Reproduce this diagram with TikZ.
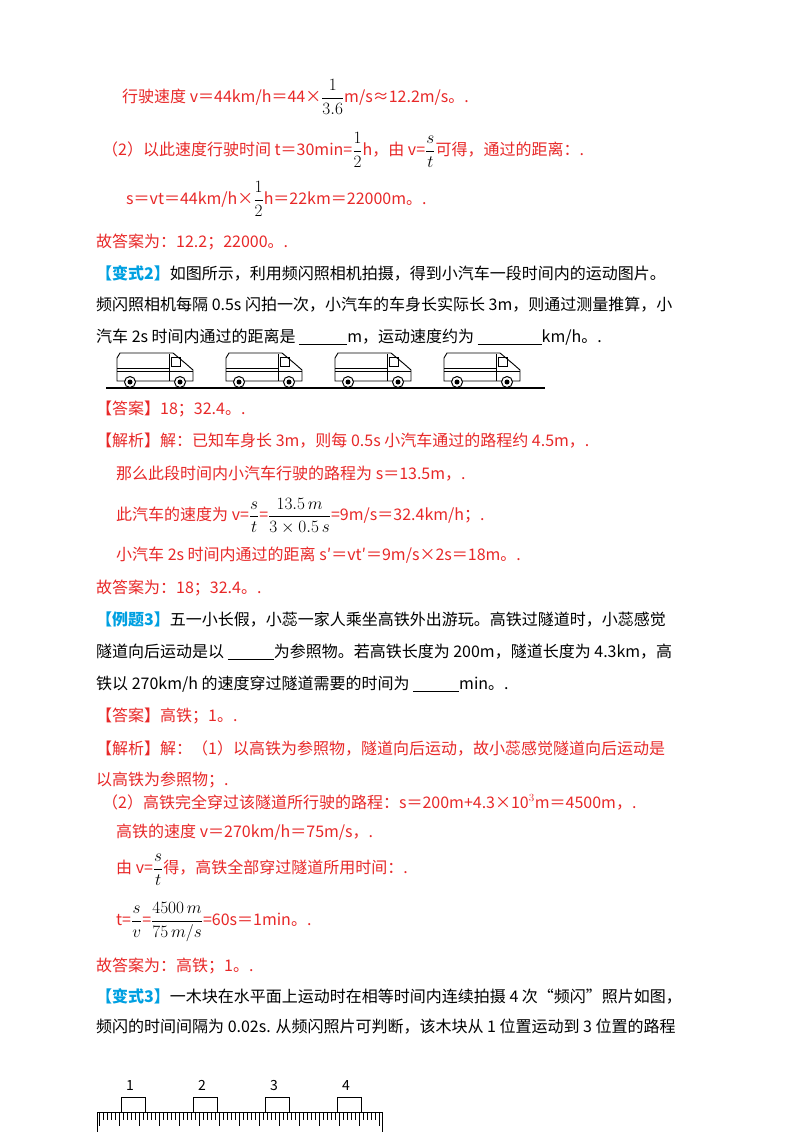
\documentclass[tikz,border=0pt]{standalone}
\usepackage{amsmath}
\usepackage{fontspec}
\setmainfont{Noto Sans CJK SC}
\definecolor{rd}{RGB}{232,40,40}
\definecolor{cy}{RGB}{0,160,225}
\newcommand{\bl}[1]{\underline{\hspace{#1}}}
\newcommand{\kf}[2]{\textcolor{black}{$\dfrac{#1}{#2}$}}
\begin{document}
\begin{tikzpicture}[x=1pt,y=-1pt,
 t/.style={anchor=west,inner sep=0pt,font=\fontsize{16}{19}\selectfont},
 r/.style={t,text=rd},
 van/.style={draw,line width=0.9pt,fill=white}]
\useasboundingbox[fill=white] (0,0) rectangle (800,1132);
\node[r] (l1) at (122,97) {行驶速度 v＝44km/h＝44×\kf{1}{3.6}m/s≈12.2m/s。.};
\node[r] (l2) at (102,150) {（2）以此速度行驶时间 t＝30min=\kf{1}{2}h，由 v=\kf{s}{t}可得，通过的距离：.};
\node[r] (l3) at (126,199) {s＝vt＝44km/h×\kf{1}{2}h＝22km＝22000m。.};
\node[r] (l4) at (96,242) {故答案为：12.2；22000。.};
\node[t] (l5) at (96,273) {\textcolor{cy}{\textbf{【变式2】}}如图所示，利用频闪照相机拍摄，得到小汽车一段时间内的运动图片。};
\node[t] (l6) at (96,305) {频闪照相机每隔 0.5s 闪拍一次，小汽车的车身长实际长 3m，则通过测量推算，小};
\node[t] (l7) at (96,337) {汽车 2s 时间内通过的距离是 \bl{48pt}m，运动速度约为 \bl{64pt}km/h。.};
% vans
\foreach \x [count=\i] in {117,226,335,444}{
 \draw[van] (\x,358) -- (\x,381) -- (\x+76,381) -- (\x+76,370) -- (\x+68,363) -- (\x+56,353) -- (\x+3,353) -- cycle;
 \draw[line width=0.6pt] (\x,371) -- (\x+76,371) (\x,368) -- (\x+52,368) (\x+52,354) -- (\x+52,381) (\x+54,357) rectangle (\x+63,366);
 \draw[line width=1pt,fill=white] (\x+13,382) circle (5.5) (\x+63,382) circle (5.5);
 \fill (\x+13,382) circle (2.5) (\x+63,382) circle (2.5);
}
\draw[line width=1.5pt] (106,388) -- (545,388);
\node[r] (a1) at (96,409) {【答案】18；32.4。.};
\node[r] (a2) at (96,441) {【解析】解：已知车身长 3m，则每 0.5s 小汽车通过的路程约 4.5m，.};
\node[r] (a3) at (116,474) {那么此段时间内小汽车行驶的路程为 s＝13.5m，.};
\node[r] (a4) at (116,516) {此汽车的速度为 v=\kf{s}{t}=\kf{13.5\,m}{3\times0.5\,s}=9m/s＝32.4km/h；.};
\node[r] (a5) at (116,555) {小汽车 2s 时间内通过的距离 s′＝vt′＝9m/s×2s＝18m。.};
\node[r] (a6) at (96,588) {故答案为：18；32.4。.};
\node[t] (b1) at (96,620) {\textcolor{cy}{\textbf{【例题3】}}五一小长假，小蕊一家人乘坐高铁外出游玩。高铁过隧道时，小蕊感觉};
\node[t] (b2) at (96,652) {隧道向后运动是以 \bl{46pt}为参照物。若高铁长度为 200m，隧道长度为 4.3km，高};
\node[t] (b3) at (96,684) {铁以 270km/h 的速度穿过隧道需要的时间为 \bl{46pt}min。.};
\node[r] (b4) at (96,716) {【答案】高铁；1。.};
\node[r] (b5) at (96,748) {【解析】解：（1）以高铁为参照物，隧道向后运动，故小蕊感觉隧道向后运动是};
\node[r] (b6) at (96,780) {以高铁为参照物；.};
\node[r] (b7) at (102,802) {（2）高铁完全穿过该隧道所行驶的路程：s＝200m+4.3×10$^3$m＝4500m，.};
\node[r] (b8) at (116,832) {高铁的速度 v＝270km/h＝75m/s，.};
\node[r] (b9) at (116,870) {由 v=\kf{s}{t}得，高铁全部穿过隧道所用时间：.};
\node[r] (b10) at (116,922) {t=\kf{s}{v}=\kf{4500\,m}{75\,m/s}=60s＝1min。.};
\node[r] (b11) at (96,966) {故答案为：高铁；1。.};
\node[t] (c1) at (96,996) {\textcolor{cy}{\textbf{【变式3】}}一木块在水平面上运动时在相等时间内连续拍摄 4 次“频闪”照片如图，};
\node[t] (c2) at (96,1027) {频闪的时间间隔为 0.02s. 从频闪照片可判断，该木块从 1 位置运动到 3 位置的路程};
% ruler
\draw[line width=0.8pt] (97,1132) -- (97,1112) -- (382,1112) -- (382,1132);
\foreach \i in {0,...,70}{
 \pgfmathsetmacro\len{ifthenelse(mod(\i,5)==0,14,8)}
 \draw[line width=0.5pt] (99+4*\i,1112) -- ++(0,\len);
}
\foreach \x/\n in {121/1,193/2,265/3,337/4}{
 \draw[line width=0.8pt] (\x,1112) -- (\x,1097) -- (\x+24,1097) -- (\x+24,1112);
 \node[font=\fontsize{14}{16}\selectfont\rmfamily] (n\n) at (\x+9,1085) {\n};
}
\end{tikzpicture}
\end{document}
